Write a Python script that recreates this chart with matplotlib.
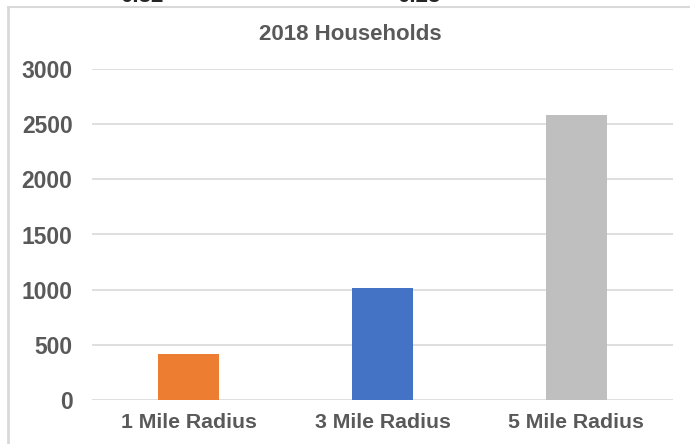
import matplotlib.pyplot as plt

categories = ["1 Mile Radius", "3 Mile Radius", "5 Mile Radius"]
households = [415, 1013, 2582]
bar_colors = ["#ED7D31", "#4472C4", "#BFBFBF"]
yticks = [0, 500, 1000, 1500, 2000, 2500, 3000]

plt.rcParams['font.family'] = ['Liberation Sans', 'DejaVu Sans']

fig = plt.figure(figsize=(6.9, 4.44), dpi=100)
ax = fig.add_axes([92/690, 1 - 400/444, (673-92)/690, (400-69)/444])

ax.bar(range(len(categories)), households, width=0.315, color=bar_colors, zorder=3)
ax.set_xlim(-0.5, 2.5)
ax.set_ylim(0, 3000)
ax.set_yticks(yticks)
ax.set_yticklabels([str(t) for t in yticks], fontsize=16.5, fontweight='bold', color='#595959')
ax.set_xticks(range(len(categories)))
ax.set_xticklabels(categories, fontsize=15.3, fontweight='bold', color='#595959')
ax.tick_params(length=0, axis='y', pad=14)
ax.tick_params(length=0, axis='x', pad=9)
ax.grid(axis='y', color='#d9d9d9', linewidth=1.2, zorder=0)
for s in ax.spines.values():
    s.set_visible(False)

fig.text(350/690, 1 - 34/444, "2018 Households", ha='center', va='center',
         fontsize=16, fontweight='bold', color='#595959')

# frame fragments of the surrounding sheet
fig.add_artist(plt.Line2D([8/690, 1], [1 - 7/444, 1 - 7/444], color='#d9d9d9', linewidth=1.5))
fig.add_artist(plt.Line2D([8/690, 8/690], [0, 1 - 7/444], color='#d9d9d9', linewidth=2))
fig.text(142/690, 1 - 1.5/444, "0.32", ha='center', va='baseline', fontsize=16, fontweight='bold', color='#262626')
fig.text(419/690, 1 - 1.5/444, "0.23", ha='center', va='baseline', fontsize=16, fontweight='bold', color='#262626')

fig.savefig("out.png", dpi=100)
